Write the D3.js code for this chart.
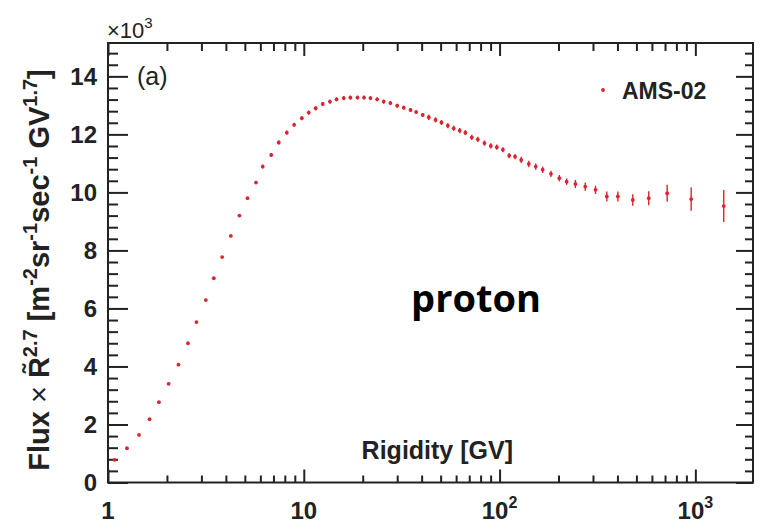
<!DOCTYPE html>
<html>
<head>
<meta charset="utf-8">
<script src="https://cdn.jsdelivr.net/npm/d3@7"></script>
<style>
  body { margin: 0; background: #fff; }
  text { font-family: "Liberation Sans", Arial, Helvetica, sans-serif; fill: #222; }
</style>
</head>
<body>
<svg id="chart" width="760" height="531"></svg>
<script>
// AMS-02 proton flux x R^2.7, values in units of 10^3
const rigidity = [1.08, 1.25, 1.44, 1.63, 1.82, 2.04, 2.29, 2.56, 2.83, 3.16, 3.47, 3.83,
  4.24, 4.69, 5.16, 5.70, 6.17, 6.82, 7.45, 8.19, 8.93, 9.77, 10.6, 11.5, 12.5, 13.6,
  14.7, 16.0, 17.3, 18.8, 20.3, 21.9, 23.7, 25.6, 27.7, 30.0, 32.4, 35.1, 37.5, 40.5,
  43.5, 47.1, 50.5, 54.4, 58.3, 62.6, 66.9, 72.1, 77.4, 83.7, 90.2, 96.8, 104, 112,
  120, 129, 141, 153, 166, 183, 202, 220, 244, 274, 309, 353, 402, 479, 578, 718, 952, 1396];
const flux = [0.78, 1.18, 1.64, 2.18, 2.77, 3.40, 4.06, 4.80, 5.53, 6.29, 7.04, 7.77,
  8.50, 9.20, 9.80, 10.34, 10.89, 11.29, 11.72, 12.06, 12.33, 12.56, 12.75, 12.90, 13.05, 13.13,
  13.21, 13.25, 13.27, 13.27, 13.27, 13.25, 13.21, 13.13, 13.08, 12.99, 12.92, 12.84, 12.77, 12.67,
  12.59, 12.50, 12.41, 12.30, 12.21, 12.13, 12.06, 11.90, 11.83, 11.70, 11.60, 11.56, 11.47, 11.27,
  11.23, 11.12, 10.98, 10.89, 10.78, 10.64, 10.49, 10.37, 10.29, 10.20, 10.09, 9.86, 9.86, 9.74, 9.80, 9.97, 9.77, 9.53];
const fluxErr = [0.03, 0.03, 0.03, 0.03, 0.03, 0.03, 0.03, 0.03, 0.03, 0.03, 0.03, 0.03,
  0.03, 0.03, 0.03, 0.03, 0.07, 0.07, 0.07, 0.07, 0.07, 0.07, 0.07, 0.07, 0.07, 0.07,
  0.07, 0.07, 0.07, 0.07, 0.07, 0.07, 0.07, 0.07, 0.07, 0.07, 0.07, 0.07, 0.07, 0.07,
  0.09, 0.09, 0.09, 0.09, 0.09, 0.09, 0.09, 0.09, 0.09, 0.09, 0.09, 0.09, 0.09, 0.09,
  0.09, 0.11, 0.11, 0.11, 0.11, 0.11, 0.11, 0.11, 0.14, 0.14, 0.14, 0.17, 0.17, 0.20, 0.24, 0.29, 0.40, 0.55];

const xMajor = [1, 10, 100, 1000];
const xMajorLabels = [["1", ""], ["10", ""], ["10", "2"], ["10", "3"]];
const yMajor = [0, 2, 4, 6, 8, 10, 12, 14];
const seriesName = "AMS-02";

const red = "#dc2430";
const ink = "#222";

const svg = d3.select("#chart");
const margin = { top: 43, right: 7, bottom: 48.5, left: 108 };
const width = 760 - margin.left - margin.right;
const height = 531 - margin.top - margin.bottom;

const x = d3.scaleLog().domain([1, 1970]).range([0, width]);
const y = d3.scaleLinear().domain([0, 15.15]).range([height, 0]);

// minor ticks: 2..9 within each decade, every 0.4 on y
const xMinor = [];
xMajor.forEach(dec => d3.range(2, 10).forEach(k => { if (k * dec <= 1970) xMinor.push(k * dec); }));
const yMinor = d3.range(0, 15.1, 0.4).filter(v => Math.abs(v / 2 - Math.round(v / 2)) > 1e-6);

const g = svg.append("g").attr("transform", `translate(${margin.left},${margin.top})`);

function tickAxis(axis, pos) {
  const el = g.append("g").attr("transform", pos).call(axis.tickFormat(""));
  el.select(".domain").remove();
  el.selectAll("line").attr("stroke", ink).attr("stroke-width", 2);
  el.selectAll("text").remove();
}

// inward ticks on all four sides (ROOT style)
tickAxis(d3.axisBottom(x).tickValues(xMajor).tickSize(-13), `translate(0,${height})`);
tickAxis(d3.axisBottom(x).tickValues(xMinor).tickSize(-7), `translate(0,${height})`);
tickAxis(d3.axisTop(x).tickValues(xMajor).tickSize(-13), "translate(0,0)");
tickAxis(d3.axisTop(x).tickValues(xMinor).tickSize(-8), "translate(0,0)");
tickAxis(d3.axisLeft(y).tickValues(yMajor).tickSize(-20), "translate(0,0)");
tickAxis(d3.axisLeft(y).tickValues(yMinor).tickSize(-10), "translate(0,0)");
tickAxis(d3.axisRight(y).tickValues(yMajor).tickSize(-17), `translate(${width},0)`);
tickAxis(d3.axisRight(y).tickValues(yMinor).tickSize(-8), `translate(${width},0)`);

g.append("rect")
  .attr("width", width).attr("height", height)
  .attr("fill", "none").attr("stroke", ink).attr("stroke-width", 2);

// tick labels
g.selectAll(".ylab").data(yMajor).join("text")
  .attr("x", -11).attr("y", d => y(d) + 8.5)
  .attr("text-anchor", "end")
  .attr("font-size", 24).attr("font-weight", "bold")
  .text(d => d);

const xl = g.selectAll(".xlab").data(xMajor).join("text")
  .attr("x", d => x(d)).attr("y", height + 36.5)
  .attr("text-anchor", "middle")
  .attr("font-size", 24).attr("font-weight", "bold");
xl.append("tspan").text((d, i) => xMajorLabels[i][0]);
xl.append("tspan").attr("dy", -11).attr("font-size", 16).text((d, i) => xMajorLabels[i][1]);

// x10^3 multiplier
const mult = svg.append("text").attr("x", 107).attr("y", 38).attr("font-size", 22);
mult.append("tspan").text("×10");
mult.append("tspan").attr("dy", -10).attr("font-size", 15).text("3");

svg.append("text").attr("x", 137).attr("y", 85).attr("font-size", 25).text("(a)");

// axis titles
svg.append("text")
  .attr("x", 513).attr("y", 459)
  .attr("text-anchor", "end")
  .attr("font-size", 25).attr("font-weight", "bold")
  .text("Rigidity [GV]");

const yTitle = svg.append("text")
  .attr("transform", "translate(49,270) rotate(-90)")
  .attr("text-anchor", "middle")
  .attr("font-size", 29).attr("font-weight", "bold");
const parts = [["Flux ", 0], ["×", 0, "normal"], [" R\u0303", 0], ["2.7", 1], ["  [m", 0], ["-2", 1], ["sr", 0],
  ["-1", 1], ["sec", 0], ["-1", 1], [" GV", 0], ["1.7", 1], ["]", 0]];
let raised = false;
parts.forEach(([t, sup, w]) => {
  const ts = yTitle.append("tspan").text(t);
  if (sup && !raised) ts.attr("dy", -12);
  if (!sup && raised) ts.attr("dy", 12);
  if (sup) ts.attr("font-size", 20);
  if (w) ts.attr("font-weight", w);
  raised = !!sup;
});

// data points with error bars
const pts = rigidity.map((r, i) => ({ r, f: flux[i], e: fluxErr[i] }));
g.selectAll(".err").data(pts).join("line")
  .attr("x1", d => x(d.r)).attr("x2", d => x(d.r))
  .attr("y1", d => y(d.f - d.e)).attr("y2", d => y(d.f + d.e))
  .attr("stroke", red).attr("stroke-width", 1.4);
g.selectAll(".pt").data(pts).join("circle")
  .attr("cx", d => x(d.r)).attr("cy", d => y(d.f))
  .attr("r", 1.9).attr("fill", red);

// legend
svg.append("circle").attr("cx", 603).attr("cy", 90).attr("r", 1.9).attr("fill", red);
svg.append("text").attr("x", 622).attr("y", 99)
  .attr("font-size", 23).attr("font-weight", "bold").text(seriesName);

svg.append("text")
  .attr("x", 476).attr("y", 312)
  .attr("text-anchor", "middle")
  .style("font-family", "'Open Sans', sans-serif")
  .attr("font-size", 38).attr("font-weight", 700)
  .style("fill", "#000")
  .text("proton");
</script>
</body>
</html>
